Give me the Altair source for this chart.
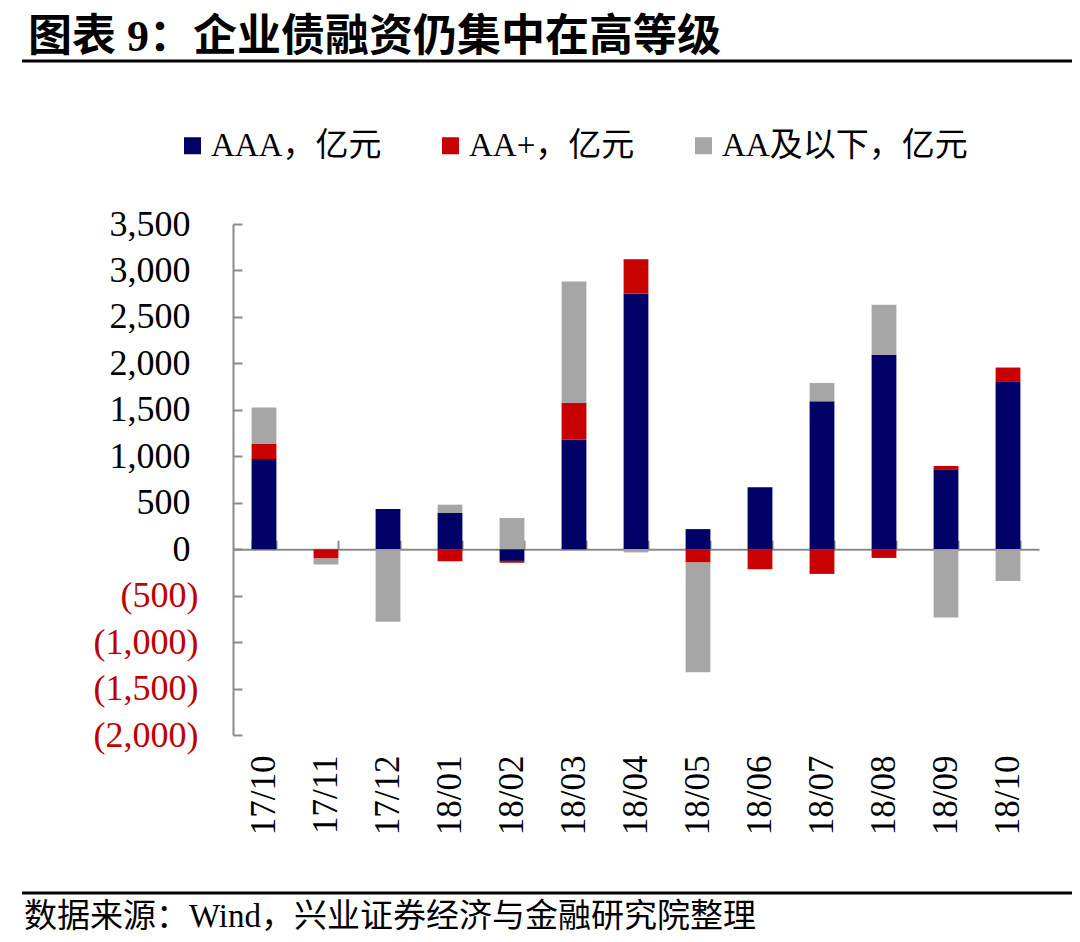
import altair as alt
import pandas as pd

# ---------------- data ----------------
months = ["17/10", "17/11", "17/12", "18/01", "18/02", "18/03", "18/04",
          "18/05", "18/06", "18/07", "18/08", "18/09", "18/10"]
aaa = [970, 0, 432, 389, -126, 1177, 2750, 216, 666, 1591, 2092, 860, 1807]
aa_plus = [162, -100, 0, -130, -20, 396, 371, -144, -216, -266, -94, 36, 148]
aa_low = [392, -65, -780, 90, 335, 1307, -35, -1181, 0, 198, 540, -734, -342]
series = ["AAA，亿元", "AA+，亿元", "AA及以下，亿元"]
colors = ["#000066", "#c80000", "#a6a6a6"]
y_ticks = [-2000, -1500, -1000, -500, 0, 500, 1000, 1500, 2000, 2500, 3000, 3500]
title_text = "图表 9：企业债融资仍集中在高等级"
source_text = "数据来源：Wind，兴业证券经济与金融研究院整理"

rows = []
for i, m in enumerate(months):
    for k, vals in enumerate([aaa, aa_plus, aa_low]):
        rows.append({"month": m, "series": series[k], "order": k, "value": vals[i]})
df = pd.DataFrame(rows)

# ---------------- layout ----------------
W, H = 806, 511
ymin, ymax = -2000, 3500
zero_px = H * ymax / (ymax - ymin)
SERIF = "Liberation Serif, Noto Sans CJK SC"
GRAY = "#8a8a8a"

label_expr = ("datum.value < 0 ? '(' + format(-datum.value, ',') + ')' "
              ": format(datum.value, ',')")

yscale = alt.Scale(domain=[ymin, ymax], nice=False, zero=False)

bars = alt.Chart(df).mark_bar().encode(
    x=alt.X("month:N", sort=months,
            scale=alt.Scale(paddingInner=0.6, paddingOuter=0.3),
            axis=alt.Axis(orient="bottom", title=None, domain=False, ticks=False,
                          labelAngle=270, labelFont=SERIF, labelFontSize=35,
                          labelColor="black", labelPadding=20)),
    y=alt.Y("value:Q", stack="zero", scale=yscale,
            axis=alt.Axis(orient="left", title=None, values=y_ticks,
                          labelExpr=label_expr, domain=False, ticks=False, grid=False,
                          labelFont=SERIF, labelFontSize=36,
                          labelPadding={"condition": {"test": "datum.value < 0", "value": 35},
                                        "value": 43},
                          labelColor={"condition": {"test": "datum.value < 0", "value": "#c00000"},
                                      "value": "black"})),
    color=alt.Color("series:N", scale=alt.Scale(domain=series, range=colors),
                    legend=alt.Legend(orient="none", legendX=-57, legendY=-95,
                                      direction="horizontal", columns=3, title=None,
                                      symbolType="square", symbolSize=289,
                                      symbolStrokeWidth=0, labelFont=SERIF,
                                      labelFontSize=33, labelColor="black", labelLimit=0,
                                      labelOffset=2, columnPadding=52, padding=0)),
    order=alt.Order("order:Q"),
)

frame = alt.Chart(df).mark_point(opacity=0).encode(
    x=alt.X("month:N", sort=months,
            axis=alt.Axis(orient="top", offset=-zero_px, title=None, labels=False,
                          tickBand="extent", tickSize=9, tickWidth=2, tickColor=GRAY,
                          domainColor=GRAY, domainWidth=2)),
    y=alt.Y("value:Q", scale=yscale,
            axis=alt.Axis(orient="right", offset=-W, title=None, labels=False,
                          values=y_ticks, tickSize=9, tickWidth=2, tickColor=GRAY,
                          domainColor=GRAY, domainWidth=2, grid=False)),
)

one = pd.DataFrame({"a": [0]})
title_line = alt.Chart(one).mark_rule(color="black", strokeWidth=3).encode(
    x=alt.value(-211), x2=alt.value(839), y=alt.value(-163))
src_line = alt.Chart(one).mark_rule(color="black", strokeWidth=3).encode(
    x=alt.value(-211), x2=alt.value(839), y=alt.value(669))

title_mark = alt.Chart(pd.DataFrame({"t": [title_text]})).mark_text(
    align="left", baseline="middle", font=SERIF, fontSize=44, fontWeight="bold",
    color="black").encode(text="t:N", x=alt.value(-205), y=alt.value(-186))
src_mark = alt.Chart(pd.DataFrame({"t": [source_text]})).mark_text(
    align="left", baseline="middle", font=SERIF, fontSize=33,
    color="black").encode(text="t:N", x=alt.value(-209), y=alt.value(693))

chart = alt.layer(title_line, title_mark, bars, frame, src_line, src_mark).resolve_axis(
    x="independent", y="independent"
).properties(
    width=W, height=H,
    autosize=alt.AutoSizeParams(type="none"),
    padding={"left": 225, "top": 216, "right": 33, "bottom": 199},
    background="white",
).configure_view(stroke=None)

chart.save("out.html", embed_options={"renderer": "svg", "actions": False})
